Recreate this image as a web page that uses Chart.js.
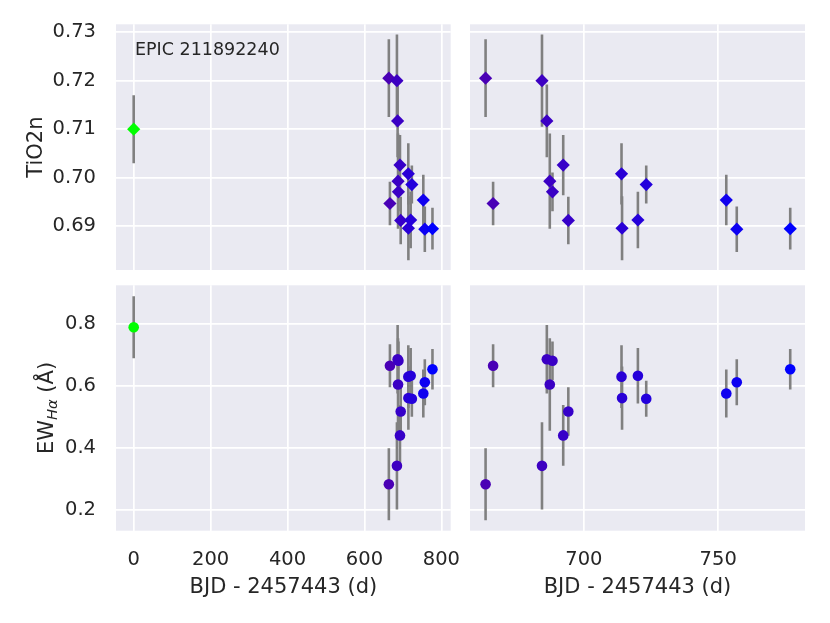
<!DOCTYPE html>
<html>
<head>
<meta charset="utf-8">
<script src="https://cdn.jsdelivr.net/npm/chart.js@4.4.1/dist/chart.umd.min.js"></script>
<style>
  html, body { margin: 0; padding: 0; background: #fff; }
  #fig { position: relative; width: 830px; height: 623px; }
  #fig canvas { position: absolute; }
</style>
</head>
<body>
<div id="fig">
  <canvas id="tl" width="460" height="280" style="left:0;top:0"></canvas>
  <canvas id="tr" width="370" height="280" style="left:460px;top:0"></canvas>
  <canvas id="bl" width="460" height="343" style="left:0;top:280px"></canvas>
  <canvas id="br" width="370" height="343" style="left:460px;top:280px"></canvas>
</div>
<script>
// Spectral indices of EPIC 211892240 vs time, full range (left) and zoom (right)

const bjd    = [0, 663.4, 666.2, 684.4, 686.2, 687.3, 688.3, 692.3, 694.2, 714.0, 714.2, 720.1, 723.2, 753.0, 756.9, 776.8];
const tio2n  = [0.7100, 0.7205, 0.6947, 0.7200, 0.7117, 0.6993, 0.6971, 0.7026, 0.6912, 0.7008, 0.6896, 0.6913, 0.6986, 0.6954, 0.6894, 0.6895];
const tio2nErr = [0.0070, 0.0080, 0.0045, 0.0095, 0.0075, 0.0098, 0.0040, 0.0062, 0.0049, 0.0063, 0.0066, 0.0058, 0.0039, 0.0052, 0.0047, 0.0043];
const ewHa   = [0.788, 0.283, 0.664, 0.342, 0.685, 0.604, 0.680, 0.440, 0.517, 0.629, 0.560, 0.632, 0.558, 0.575, 0.611, 0.653];
const ewHaErr = [0.100, 0.116, 0.069, 0.140, 0.110, 0.149, 0.062, 0.098, 0.078, 0.101, 0.102, 0.089, 0.058, 0.077, 0.074, 0.065];

const xTicksFull = [0, 200, 400, 600, 800];
const xTicksZoom = [700, 750];
const yTicksTiO2 = [0.69, 0.70, 0.71, 0.72, 0.73];
const yTicksEW   = [0.2, 0.4, 0.6, 0.8];

const TXT = '#262626';
const FONT = 'DejaVu Sans';

// brg_r colormap over the time span
function timeColor(x) {
  const lo = Math.min(...bjd), hi = Math.max(...bjd);
  const t = (x - lo) / (hi - lo);
  let r, g, b;
  if (t < 0.5) { const s = t / 0.5; r = 255 * s; g = 255 * (1 - s); b = 0; }
  else { const s = (t - 0.5) / 0.5; r = 255 * (1 - s); g = 0; b = 255 * s; }
  return `rgb(${Math.round(r)},${Math.round(g)},${Math.round(b)})`;
}
const colors = bjd.map(timeColor);

const panelBg = {
  id: 'panelBg',
  beforeDraw(chart) {
    const { ctx, chartArea: a } = chart;
    ctx.save();
    ctx.fillStyle = '#EAEAF2';
    ctx.fillRect(a.left, a.top, a.right - a.left, a.bottom - a.top);
    ctx.restore();
  }
};

// vertical error bars, drawn under the markers
const errorBars = {
  id: 'errorBars',
  beforeDatasetsDraw(chart) {
    const { ctx, chartArea: a, scales: { x, y } } = chart;
    const ds = chart.data.datasets[0];
    ctx.save();
    ctx.beginPath();
    ctx.rect(a.left, a.top, a.right - a.left, a.bottom - a.top);
    ctx.clip();
    ctx.strokeStyle = '#808080';
    ctx.lineWidth = 2.6;
    ds.data.forEach((p, i) => {
      const px = x.getPixelForValue(p.x);
      ctx.beginPath();
      ctx.moveTo(px, y.getPixelForValue(p.y - ds.err[i]));
      ctx.lineTo(px, y.getPixelForValue(p.y + ds.err[i]));
      ctx.stroke();
    });
    ctx.restore();
  }
};

const epicLabel = {
  id: 'epicLabel',
  afterDraw(chart) {
    const { ctx } = chart;
    ctx.save();
    ctx.fillStyle = TXT;
    ctx.font = `17.5px "${FONT}"`;
    ctx.textBaseline = 'alphabetic';
    ctx.fillText('EPIC 211892240', 135, 55);
    ctx.restore();
  }
};

const ewTitle = {
  id: 'ewTitle',
  afterDraw(chart) {
    const { ctx } = chart;
    ctx.save();
    ctx.fillStyle = TXT;
    ctx.translate(52.5, 128);
    ctx.rotate(-Math.PI / 2);
    const big = `21px "${FONT}"`, sub = `italic 14.7px "${FONT}"`;
    ctx.font = big; const w1 = ctx.measureText('EW').width; const w3 = ctx.measureText(' (Å)').width;
    ctx.font = sub; const w2 = ctx.measureText('Hα').width;
    let x0 = -(w1 + w2 + w3) / 2;
    ctx.textBaseline = 'alphabetic';
    ctx.font = big; ctx.fillText('EW', x0, 0);
    ctx.font = sub; ctx.fillText('Hα', x0 + w1, 4.5);
    ctx.font = big; ctx.fillText(' (Å)', x0 + w1 + w2, 0);
    ctx.restore();
  }
};

// fixed axis sizes, no label-overflow padding
function fixSize(prop, size) {
  return s => {
    s[prop] = size;
    s.paddingLeft = s.paddingRight = s.paddingTop = s.paddingBottom = 0;
  };
}

function makePanel(id, o) {
  const data = bjd.map((x, i) => ({ x, y: o.vals[i] }));
  return new Chart(document.getElementById(id), {
    type: 'scatter',
    data: {
      datasets: [{
        data,
        err: o.errs,
        pointStyle: o.marker,
        pointRadius: o.radius,
        pointBackgroundColor: colors,
        pointBorderWidth: 0,
        clip: 0,
      }]
    },
    plugins: [panelBg, errorBars, ...(o.extra || [])],
    options: {
      responsive: false,
      animation: false,
      layout: { padding: o.padding },
      plugins: { legend: { display: false }, tooltip: { enabled: false } },
      scales: {
        x: {
          type: 'linear',
          min: o.xmin, max: o.xmax,
          afterBuildTicks: s => { s.ticks = o.xTicks.map(v => ({ value: v })); },
          afterFit: fixSize('height', o.xHeight),
          grid: { color: '#ffffff', lineWidth: 1.7, drawTicks: false },
          border: { display: false },
          ticks: {
            display: o.xLabels,
            padding: 18,
            color: TXT,
            font: { family: FONT, size: 19.5 },
            callback: v => String(v),
          },
          title: {
            display: o.xLabels,
            text: 'BJD - 2457443 (d)',
            color: TXT,
            font: { family: FONT, size: 21 },
            padding: { top: 0, bottom: 23 },
          },
        },
        y: {
          type: 'linear',
          min: o.ymin, max: o.ymax,
          afterBuildTicks: s => { s.ticks = o.yTicks.map(v => ({ value: v })); },
          afterFit: fixSize('width', o.yWidth),
          grid: { color: '#ffffff', lineWidth: 1.7, drawTicks: false },
          border: { display: false },
          ticks: {
            display: o.yLabels,
            padding: 20,
            color: TXT,
            font: { family: FONT, size: 19.5 },
            callback: v => v.toFixed(o.yDigits),
          },
          title: {
            display: !!o.yTitle,
            text: o.yTitle || '',
            color: TXT,
            font: { family: FONT, size: 21 },
            padding: { top: 24, bottom: 0 },
          },
        },
      },
    },
  });
}

const fullCol = { xmin: -46, xmax: 824.2, xTicks: xTicksFull, yWidth: 116, yLabels: true };
const zoomCol = { xmin: 657.6, xmax: 782.3, xTicks: xTicksZoom, yWidth: 10, yLabels: false };
const tioRow = { vals: tio2n, errs: tio2nErr, marker: 'rectRot', radius: 6.6, ymin: 0.6810, ymax: 0.7316,
                 yTicks: yTicksTiO2, yDigits: 2, xHeight: 0, xLabels: false };
const ewRow = { vals: ewHa, errs: ewHaErr, marker: 'circle', radius: 5.3, ymin: 0.1334, ymax: 0.923,
                yTicks: yTicksEW, yDigits: 1, xHeight: 92.3, xLabels: true };

makePanel('tl', { ...fullCol, ...tioRow, yTitle: 'TiO2n', padding: { left: 0, top: 24.3, right: 9.3, bottom: 10 }, extra: [epicLabel] });
makePanel('tr', { ...zoomCol, ...tioRow, padding: { left: 0, top: 24.3, right: 25, bottom: 10 } });
makePanel('bl', { ...fullCol, ...ewRow, padding: { left: 0, top: 5, right: 9.3, bottom: 0 }, extra: [ewTitle] });
makePanel('br', { ...zoomCol, ...ewRow, padding: { left: 0, top: 5, right: 25, bottom: 0 } });
</script>
</body>
</html>
